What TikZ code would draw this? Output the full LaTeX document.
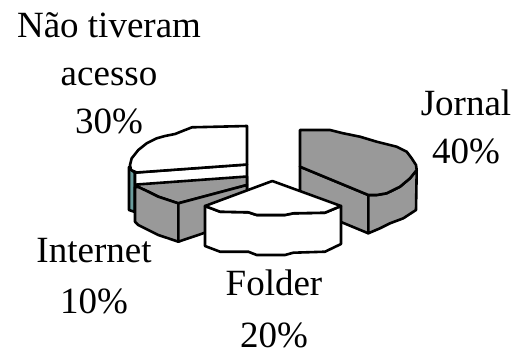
\documentclass[tikz,border=0pt]{standalone}
\usepackage{fontspec}
\setmainfont{Liberation Serif}
\definecolor{Shade}{HTML}{999999}
\definecolor{Teal}{HTML}{6A9C9C}

\begin{document}
\begin{tikzpicture}[x=1pt,y=-1pt, slice/.style={draw=black,line width=2.6pt,line join=round}, grey/.style={slice,fill=Shade}, blank/.style={slice,fill=white}, lbl/.style={font=\fontsize{37}{48}\selectfont,align=center,inner sep=0pt,anchor=base}]
\useasboundingbox (0,0) rectangle (516,354);
% Nao tiveram acesso
\draw[slice,fill=Teal] (129,167) -- (129,210) -- (135,212) -- (135,173) -- cycle;
\draw[blank] (135,172.5) -- (247,164.5) -- (247,200) -- (135,210) -- cycle;
\draw[blank] (247,126) -- (192,127.3) -- (183.3,130.7) -- (175,134) -- (165,136) -- (156.7,138.3) -- (146.7,143.3) -- (138.3,150) -- (131.7,158.3) -- (130,165) -- (131,170) -- (136.7,172.5) -- (247,164.5) -- cycle;
% Internet
\draw[grey] (136.7,184.5) -- (247,176.5) -- (247,185) -- (178.3,203.3) -- (168.3,200) -- (158.3,196.7) -- (148.3,191.7) -- (138.3,187) -- cycle;
\draw[grey] (135,187) -- (138.3,187) -- (148.3,191.7) -- (158.3,196.7) -- (168.3,200) -- (178.3,203.3) -- (178.3,241.7) -- (168.3,238.3) -- (158.3,235) -- (148.3,230) -- (138.3,225) -- (135,221.7) -- cycle;
\draw[grey] (178.3,203.3) -- (247,185) -- (247,218.5) -- (178.3,241.7) -- cycle;
% Jornal
\draw[grey] (300,166.7) -- (368.3,195) -- (368.3,233.3) -- (300,205) -- cycle;
\draw[grey] (368.3,195) -- (376.7,195) -- (386.7,193.3) -- (400,186.7) -- (410,178.3) -- (416.7,170) -- (416,210) -- (403.3,218.3) -- (390,223.3) -- (380,228.3) -- (368.3,233.3) -- cycle;
\draw[grey] (300,130) -- (330,130) -- (343.3,133.3) -- (360,136.7) -- (376.7,141.7) -- (396.7,146.7) -- (406.7,151.7) -- (411.7,158.3) -- (416,165) -- (416.7,170) -- (410,178.3) -- (400,186.7) -- (386.7,193.3) -- (376.7,195) -- (368.3,195) -- (300,166.7) -- cycle;
% Folder
\draw[blank] (205,206) -- (220,211.7) -- (248.3,212.3) -- (256.7,215) -- (285,215) -- (293.3,213.3) -- (325,212.7) -- (341,206) -- (341,244) -- (325,251.7) -- (293.3,252.7) -- (285,255) -- (256.7,255) -- (248.3,251.7) -- (220,251.7) -- (205,246) -- cycle;
\draw[blank] (272.3,181) -- (205,206) -- (220,211.7) -- (248.3,212.3) -- (256.7,215) -- (285,215) -- (293.3,213.3) -- (325,212.7) -- (341,206) -- cycle;
\node[lbl] (naoacesso) at (109,133) {Não tiveram\\acesso\\30\%};
\node[lbl] (jornal) at (466,163) {Jornal\\40\%};
\node[lbl,font=\fontsize{37}{51}\selectfont] (internet) at (94,313) {Internet\\10\%};
\node[lbl,font=\fontsize{37}{52}\selectfont] (folder) at (274,347) {Folder\\20\%\vphantom{}};
\end{tikzpicture}
\end{document}
